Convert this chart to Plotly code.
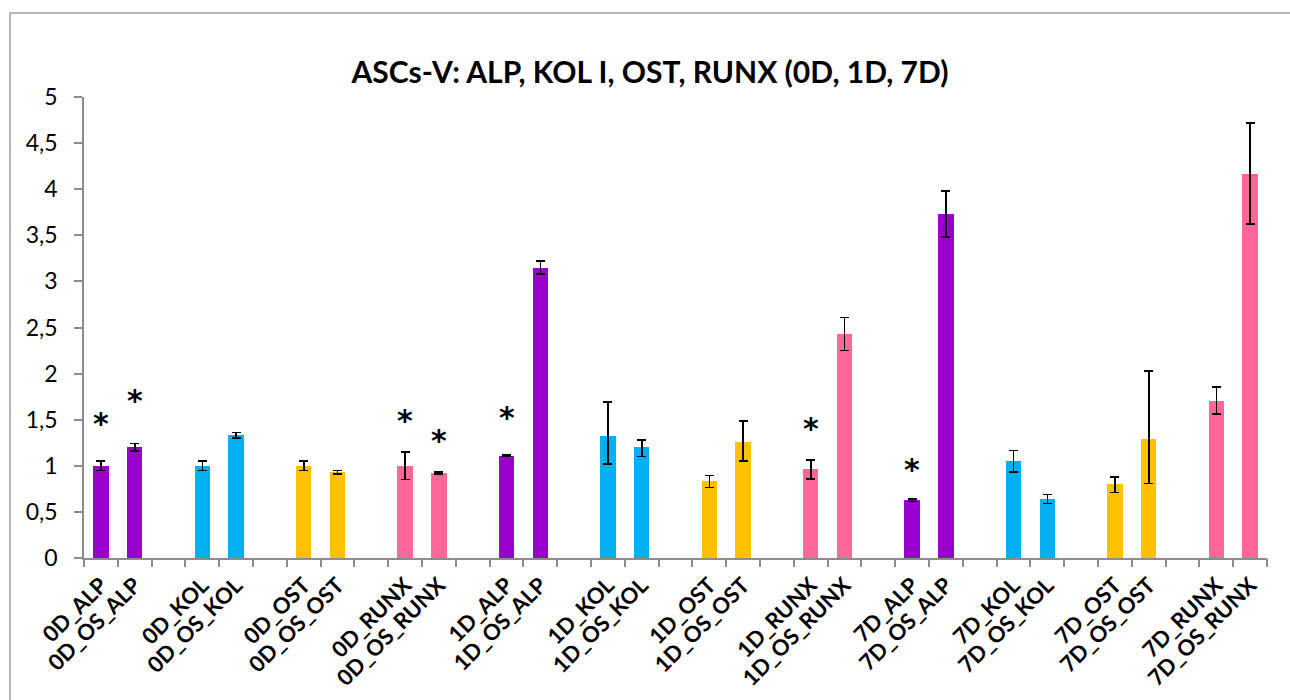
import plotly.graph_objects as go

# Gene / day labels, two bars per group
labels = [
    "0D_ALP", "0D_OS_ALP", "0D_KOL", "0D_OS_KOL", "0D_OST", "0D_OS_OST",
    "0D_RUNX", "0D_OS_RUNX", "1D_ALP", "1D_OS_ALP", "1D_KOL", "1D_OS_KOL",
    "1D_OST", "1D_OS_OST", "1D_RUNX", "1D_OS_RUNX", "7D_ALP", "7D_OS_ALP",
    "7D_KOL", "7D_OS_KOL", "7D_OST", "7D_OS_OST", "7D_RUNX", "7D_OS_RUNX",
]
values = [
    1.00, 1.20, 1.00, 1.33, 1.00, 0.93,
    1.00, 0.92, 1.11, 3.15, 1.32, 1.20,
    0.83, 1.255, 0.965, 2.43, 0.627, 3.73,
    1.05, 0.64, 0.80, 1.29, 1.70, 4.16,
]
err_plus = [
    0.05, 0.04, 0.05, 0.03, 0.05, 0.02,
    0.15, 0.01, 0.005, 0.07, 0.37, 0.08,
    0.065, 0.23, 0.10, 0.18, 0.012, 0.25,
    0.115, 0.05, 0.08, 0.74, 0.155, 0.56,
]
err_minus = [
    0.05, 0.04, 0.05, 0.03, 0.05, 0.02,
    0.15, 0.01, 0.005, 0.07, 0.30, 0.10,
    0.065, 0.20, 0.11, 0.18, 0.012, 0.25,
    0.115, 0.05, 0.09, 0.48, 0.14, 0.54,
]
gene_colors = {"ALP": "#9900CC", "KOL": "#00B0F0", "OST": "#FFC000", "RUNX": "#FF6699"}

# Significance markers: label -> height of the asterisk
star_labels = ["0D_ALP", "0D_OS_ALP", "0D_RUNX", "0D_OS_RUNX", "1D_ALP", "1D_RUNX", "7D_ALP"]
star_heights = [1.55, 1.79, 1.58, 1.36, 1.61, 1.49, 1.05]

y_ticks = [0, 0.5, 1, 1.5, 2, 2.5, 3, 3.5, 4, 4.5, 5]
y_tick_text = ["0", "0,5", "1", "1,5", "2", "2,5", "3", "3,5", "4", "4,5", "5"]

# each pair of bars is followed by an empty slot
xpos = [3 * (i // 2) + (i % 2) for i in range(len(labels))]
n_slots = xpos[-1] + 1
colors = [gene_colors[lab.split("_")[-1]] for lab in labels]

FONT = "Lato, 'Open Sans', sans-serif"

fig = go.Figure()
fig.add_trace(go.Bar(
    x=xpos, y=values, width=0.46,
    marker=dict(color=colors, line=dict(width=0)),
    error_y=dict(type="data", array=err_plus, arrayminus=err_minus, symmetric=False,
                 color="black", thickness=1.6, width=4.5),
    showlegend=False,
))
# invisible trace on the boundary-tick axis
fig.add_trace(go.Scatter(x=[-0.5], y=[0], xaxis="x2", mode="markers",
                         marker=dict(opacity=0), showlegend=False, hoverinfo="skip"))

for lab, h in zip(star_labels, star_heights):
    fig.add_annotation(x=xpos[labels.index(lab)], y=h, text="*", showarrow=False,
                       font=dict(family="DejaVu Sans", size=30, color="black", weight="bold"),
                       yshift=-8)

L, R, T, B = 84, 1267, 97, 558
W, H = 1290, 700
pw, ph = R - L, B - T
fig.add_shape(type="rect", xref="paper", yref="paper",
              x0=(10 - L) / pw, x1=(1300 - L) / pw, y0=(B - 760) / ph, y1=(B - 13) / ph,
              line=dict(color="#A0A0A0", width=1.5), fillcolor="rgba(0,0,0,0)", layer="below")

fig.update_layout(
    width=W, height=H,
    margin=dict(l=L, r=W - R, t=T, b=H - B, pad=0, autoexpand=False),
    paper_bgcolor="white", plot_bgcolor="white",
    font=dict(family=FONT, color="black"),
    title=dict(text="<b>ASCs-V: ALP, KOL I, OST, RUNX (0D, 1D, 7D)</b>",
               x=650 / W, xanchor="center", y=1 - 72 / H, yanchor="middle",
               font=dict(family=FONT, size=30, color="black")),
    bargap=0,
    xaxis=dict(range=[-0.5, n_slots - 0.5], tickmode="array", tickvals=xpos, ticktext=labels,
               tickangle=-45, ticks="", showline=True, linecolor="#8C8C8C", linewidth=1.5,
               showgrid=False, zeroline=False, ticklabelstandoff=4, automargin=False,
               tickfont=dict(family=FONT, size=22, color="black", weight="bold")),
    xaxis2=dict(range=[-0.5, n_slots - 0.5], overlaying="x", side="bottom",
                tickmode="array", tickvals=[k - 0.5 for k in range(n_slots + 1)],
                ticks="outside", ticklen=8, tickcolor="#8C8C8C", tickwidth=1.5,
                showticklabels=False, showgrid=False, zeroline=False, showline=False,
                automargin=False),
    yaxis=dict(range=[0, 5], tickmode="array", tickvals=y_ticks, ticktext=y_tick_text,
               ticks="outside", ticklen=8, tickcolor="#8C8C8C", tickwidth=1.5,
               showline=True, linecolor="#8C8C8C", linewidth=1.5, showgrid=False,
               zeroline=False, ticklabelstandoff=12, automargin=False,
               tickfont=dict(family=FONT, size=23, color="black")),
)

fig.write_html("out.html")
